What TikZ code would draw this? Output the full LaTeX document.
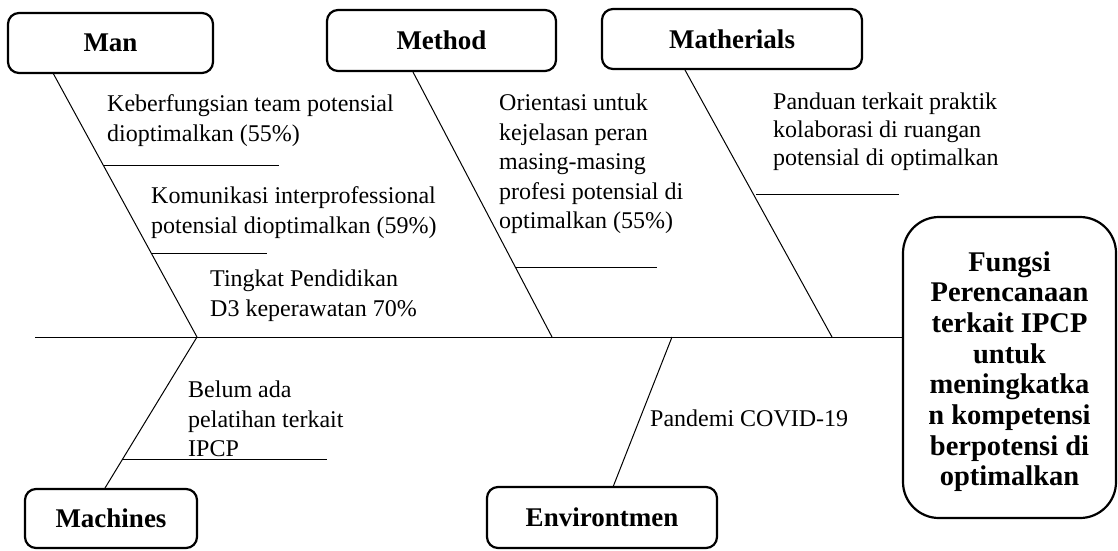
\documentclass[tikz,border=0pt]{standalone}
\usepackage{fontspec}
\setmainfont{Liberation Serif}
\begin{document}
\begin{tikzpicture}[x=1pt,y=-1pt,
  catbox/.style={draw, line width=2.2pt, rounded corners=11pt, inner sep=0pt,
     font=\fontsize{27}{31}\selectfont\bfseries},
  cause/.style={inner sep=0pt, anchor=north west, align=left,
     font=\fontsize{24}{29.5}\selectfont},
  bone/.style={line width=1pt},
  uline/.style={line width=1pt}]
\useasboundingbox (0,0) rectangle (1118,550);

% category boxes
\node[catbox, minimum width=205pt, minimum height=60pt] (man) at (110.5,43) {Man};
\node[catbox, minimum width=229pt, minimum height=61pt] (method) at (441.5,40.5) {Method};
\node[catbox, minimum width=260pt, minimum height=60pt] (mat) at (732,39) {Matherials};
\node[catbox, minimum width=172pt, minimum height=59pt] (mach) at (111,518.5) {Machines};
\node[catbox, minimum width=230pt, minimum height=61pt] (env) at (602,517.5) {Environtmen};
\node[catbox, rounded corners=36pt, minimum width=213pt, minimum height=301pt, align=center,
  font=\fontsize{28.5}{30.7}\selectfont\bfseries]
  (res) at (1009.5,367.5) {\rule{0pt}{28pt}Fungsi\\Perencanaan\\terkait IPCP\\untuk\\meningkatka\\n kompetensi\\berpotensi di\\optimalkan};

% spine
\coordinate (spineL) at (35,337);
\draw[bone] (spineL) -- (spineL -| res.west);

% bone points
\coordinate (manA) at (53,73);   \coordinate (manB) at (197,337);
\coordinate (metA) at (413,72);  \coordinate (metB) at (552,337);
\coordinate (matA) at (685,70);  \coordinate (matB) at (832,337);
\coordinate (macB) at (105,488);
\coordinate (envA) at (672,337); \coordinate (envB) at (613,487);

\draw[bone] (manA) -- (manB);
\draw[bone] (metA) -- (metB);
\draw[bone] (matA) -- (matB);
\draw[bone] (manB) -- (macB);
\draw[bone] (envA) -- (envB);

% underlines
\coordinate (u1a) at (104,165); \coordinate (u1b) at (279,165);
\coordinate (u2a) at (152,253); \coordinate (u2b) at (267,253);
\coordinate (u3a) at (516,267); \coordinate (u3b) at (657,267);
\coordinate (u4a) at (756,194); \coordinate (u4b) at (899,194);
\coordinate (u5a) at (122,459); \coordinate (u5b) at (327,459);
\draw[uline] (u1a) -- (u1b);
\draw[uline] (u2a) -- (u2b);
\draw[uline] (u3a) -- (u3b);
\draw[uline] (u4a) -- (u4b);
\draw[uline] (u5a) -- (u5b);

% cause texts
\node[cause] (t1) at (107,91) {\strut Keberfungsian team potensial\\dioptimalkan (55\%)};
\node[cause] (t2) at (151,183) {\strut Komunikasi interprofessional\\potensial dioptimalkan (59\%)};
\node[cause] (t3) at (210,266) {\strut Tingkat Pendidikan\\D3 keperawatan 70\%};
\node[cause] (t4) at (188,377) {\strut Belum ada\\pelatihan terkait\\IPCP};
\node[cause] (t5) at (499,90) {\strut Orientasi untuk\\kejelasan peran\\masing-masing\\profesi potensial di\\optimalkan (55\%)};
\node[cause, font=\fontsize{24}{28}\selectfont] (t6) at (773,90) {\strut Panduan terkait praktik\\kolaborasi di ruangan\\potensial di optimalkan};
\node[cause] (t7) at (650,406) {\strut Pandemi COVID-19};
\end{tikzpicture}
\end{document}
